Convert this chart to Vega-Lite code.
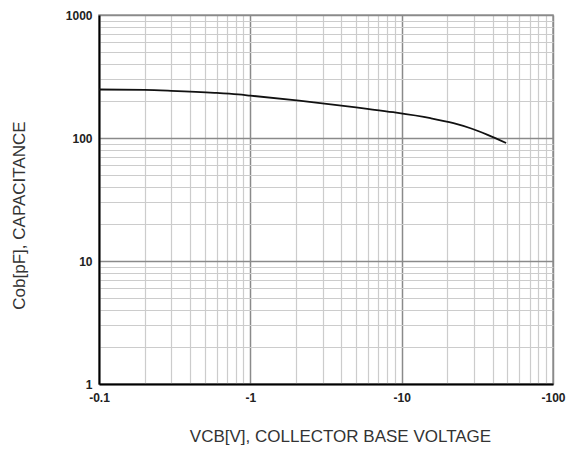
{
  "$schema": "https://vega.github.io/schema/vega-lite/v6.json",
  "width": 454,
  "height": 369,
  "autosize": "none",
  "padding": {"left": 99, "top": 15, "right": 13, "bottom": 67},
  "background": "white",
  "config": {
    "view": {"stroke": "#999999", "strokeWidth": 1.5},
    "font": "Liberation Sans"
  },
  "data": {
    "values": [
      {"V": -0.1, "C": 248},
      {"V": -0.2, "C": 246},
      {"V": -0.3, "C": 242},
      {"V": -0.58, "C": 233},
      {"V": -0.83, "C": 226},
      {"V": -1.0, "C": 221},
      {"V": -2.1, "C": 201},
      {"V": -3.4, "C": 188},
      {"V": -5.6, "C": 174},
      {"V": -8.8, "C": 162},
      {"V": -15.5, "C": 145},
      {"V": -22, "C": 132},
      {"V": -28.5, "C": 120},
      {"V": -37, "C": 106},
      {"V": -49, "C": 91}
    ]
  },
  "mark": {"type": "line", "color": "#111111", "strokeWidth": 1.8, "clip": true, "interpolate": "monotone"},
  "encoding": {
    "x": {
      "field": "V",
      "type": "quantitative",
      "scale": {"type": "log", "domain": [-0.1, -100], "nice": false},
      "axis": {
        "title": "VCB[V], COLLECTOR BASE VOLTAGE",
        "titleFont": "Liberation Sans",
        "titleFontSize": 17,
        "titleFontWeight": "normal",
        "titleColor": "#333333",
        "titleX": 241,
        "titleY": 52,
        "titleBaseline": "middle",
        "titleAlign": "center",
        "values": [-0.1, -0.2, -0.3, -0.4, -0.5, -0.6, -0.7, -0.8, -0.9, -1, -2, -3, -4, -5, -6, -7, -8, -9, -10, -20, -30, -40, -50, -60, -70, -80, -90, -100],
        "labelExpr": "abs(log(abs(datum.value))/LN10 - round(log(abs(datum.value))/LN10)) < 0.001 ? '-' + toString(abs(datum.value)) : ''",
        "labelFont": "Liberation Sans",
        "labelFontSize": 12,
        "labelFontWeight": "bold",
        "labelColor": "#222222",
        "labelPadding": 8,
        "labelOverlap": false,
        "labelFlush": false,
        "ticks": false,
        "domainColor": "#000000",
        "domainWidth": 2,
        "grid": true,
        "gridColor": {"condition": {"test": "abs(log(abs(datum.value))/LN10 - round(log(abs(datum.value))/LN10)) < 0.001", "value": "#8a8a8a"}, "value": "#cccccc"},
        "gridWidth": {"condition": {"test": "abs(log(abs(datum.value))/LN10 - round(log(abs(datum.value))/LN10)) < 0.001", "value": 1.5}, "value": 1.2}
      }
    },
    "y": {
      "field": "C",
      "type": "quantitative",
      "scale": {"type": "log", "domain": [1, 1000], "nice": false},
      "axis": {
        "title": "Cob[pF], CAPACITANCE",
        "titleFont": "Liberation Sans",
        "titleFontSize": 17,
        "titleFontWeight": "normal",
        "titleColor": "#333333",
        "titleX": -80,
        "titleY": 200,
        "titleBaseline": "middle",
        "titleAlign": "center",
        "titleAngle": -90,
        "values": [1, 2, 3, 4, 5, 6, 7, 8, 9, 10, 20, 30, 40, 50, 60, 70, 80, 90, 100, 200, 300, 400, 500, 600, 700, 800, 900, 1000],
        "labelExpr": "abs(log(datum.value)/LN10 - round(log(datum.value)/LN10)) < 0.001 ? toString(datum.value) : ''",
        "labelFont": "Liberation Sans",
        "labelFontSize": 12,
        "labelFontWeight": "bold",
        "labelColor": "#222222",
        "labelPadding": 7,
        "labelOverlap": false,
        "labelFlush": false,
        "ticks": false,
        "domainColor": "#000000",
        "domainWidth": 2,
        "grid": true,
        "gridColor": {"condition": {"test": "abs(log(datum.value)/LN10 - round(log(datum.value)/LN10)) < 0.001", "value": "#8a8a8a"}, "value": "#cccccc"},
        "gridWidth": {"condition": {"test": "abs(log(datum.value)/LN10 - round(log(datum.value)/LN10)) < 0.001", "value": 1.5}, "value": 1.2}
      }
    }
  }
}
